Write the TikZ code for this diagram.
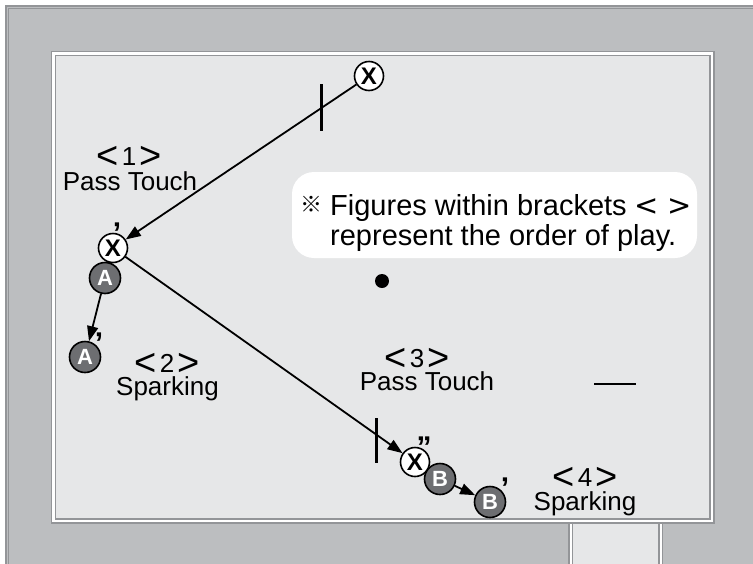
\documentclass[tikz,border=0pt]{standalone}
\usepackage{fontspec}
\setmainfont{Liberation Sans}
\newfontfamily\brkfont{DejaVu Sans}
\newfontfamily\jpfont{Noto Sans CJK JP}
\usetikzlibrary{arrows.meta}
\definecolor{panelgray}{HTML}{BCBEC0}
\definecolor{edgegray}{HTML}{939598}
\definecolor{fieldgray}{HTML}{E6E7E8}
\definecolor{mategray}{HTML}{6D6E71}
\newcommand{\bigbrk}[1]{{\fontsize{38}{38}\selectfont\raisebox{-3.5pt}[16pt][0pt]{#1}}}
\newcommand{\ordlabel}[1]{\bigbrk{<}\hspace{0.12em}#1\hspace{0.12em}\bigbrk{>}}
\newcommand{\primeglyph}[1]{\raisebox{-0.45em}[0.3em][0pt]{#1}}
\begin{document}
\begin{tikzpicture}[x=1pt, y=-1pt,
    attacker/.style={circle, draw, line width=1.6pt, fill=white, minimum size=29pt, inner sep=0pt,
        font=\fontsize{24}{24}\selectfont\bfseries},
    mate/.style={circle, draw, line width=1.6pt, fill=mategray, text=white, minimum size=31pt, inner sep=0pt,
        font=\fontsize{22}{22}\selectfont\bfseries},
    primemark/.style={anchor=north, inner sep=0pt, font=\fontsize{30}{30}\selectfont\bfseries},
    pass/.style={line width=1.8pt, -{Triangle[length=15pt,width=11pt]}},
    ticks/.style={line width=3pt},
    orderlabel/.style={anchor=base, inner sep=0pt, font=\fontsize{26}{26}\selectfont},
    notetext/.style={anchor=base west, inner sep=0pt, font=\fontsize{29}{29}\selectfont}
]
    \useasboundingbox (0,0) rectangle (753,563);

    % Outer panel
    \fill[panelgray] (5,5) rectangle (760,570);
    \draw[edgegray, line width=1.5pt] (5.8,570) -- (5.8,5.8) -- (760,5.8);
    \draw[edgegray, line width=1pt] (8.5,570) -- (8.5,8.5) -- (760,8.5);

    % Field
    \draw[edgegray, line width=1.5pt, fill=white] (51.5,51.5) rectangle (714.2,523.2);
    \draw[edgegray, line width=1.5pt, fill=fieldgray] (55.6,55.6) rectangle (710.2,518.8);

    % Goal box
    \draw[edgegray, line width=1.5pt, fill=white] (569.2,523.2) rectangle (662.5,575);
    \draw[edgegray, line width=1.5pt, fill=fieldgray] (572.5,523.2) rectangle (659.2,575);

    % Note
    \fill[white, rounded corners=22pt] (292,172) rectangle (697,258);
    \node[inner sep=0pt, font=\jpfont\fontsize{22}{22}\selectfont] (refmark) at (311,204) {※};
    \node[notetext] (noteone) at (330,215) {Figures within brackets {\brkfont<} {\brkfont>}};
    \node[notetext] (notetwo) at (330,245) {represent the order of play.};

    % Centre spot and mark
    \node[circle, fill=black, minimum size=14pt, inner sep=0pt] (spot) at (382,281) {};
    \coordinate (markl) at (594,384);
    \coordinate (markr) at (636,384);
    \draw[line width=2.5pt] (markl) -- (markr);

    % Players
    \node[attacker] (xa) at (369,76) {X};
    \node[attacker] (xb) at (113,248) {X};
    \node[mate] (aa) at (105,278) {A};
    \node[mate] (ab) at (85,357) {A};
    \node[attacker] (xc) at (415,462) {X};
    \node[mate] (ba) at (440,479) {B};
    \node[mate] (bb) at (490,502) {B};

    % Primes
    \node[primemark] (xbp) at (117,221) {\primeglyph{’}};
    \node[primemark] (abp) at (99,331) {\primeglyph{’}};
    \node[primemark] (xcp) at (424,435) {\primeglyph{”}};
    \node[primemark] (bbp) at (505,476) {\primeglyph{’}};

    % Passes and runs
    \draw[pass] (xa) -- (xb);
    \draw[pass] (xb) -- (xc);
    \draw[pass] (aa) -- (ab);
    \draw[pass] (ba) -- (bb);

    % Ticks
    \coordinate (tickone) at (321,107.5);
    \draw[ticks] (tickone) ++(0,-23.5) -- ++(0,47);
    \coordinate (ticktwo) at (376,440.5);
    \draw[ticks] (ticktwo) ++(0,-22.5) -- ++(0,45);

    % Order labels
    \node[orderlabel] (ordone) at (129,165) {\ordlabel{1}};
    \node[orderlabel] (passone) at (130,190) {Pass Touch};
    \node[orderlabel] (ordtwo) at (167,372) {\ordlabel{2}};
    \node[orderlabel] (sparktwo) at (167.5,395) {Sparking};
    \node[orderlabel] (ordthree) at (417,367) {\ordlabel{3}};
    \node[orderlabel] (passthree) at (427,390) {Pass Touch};
    \node[orderlabel] (ordfour) at (585,486) {\ordlabel{4}};
    \node[orderlabel] (sparkfour) at (585,510) {Sparking};
\end{tikzpicture}
\end{document}
